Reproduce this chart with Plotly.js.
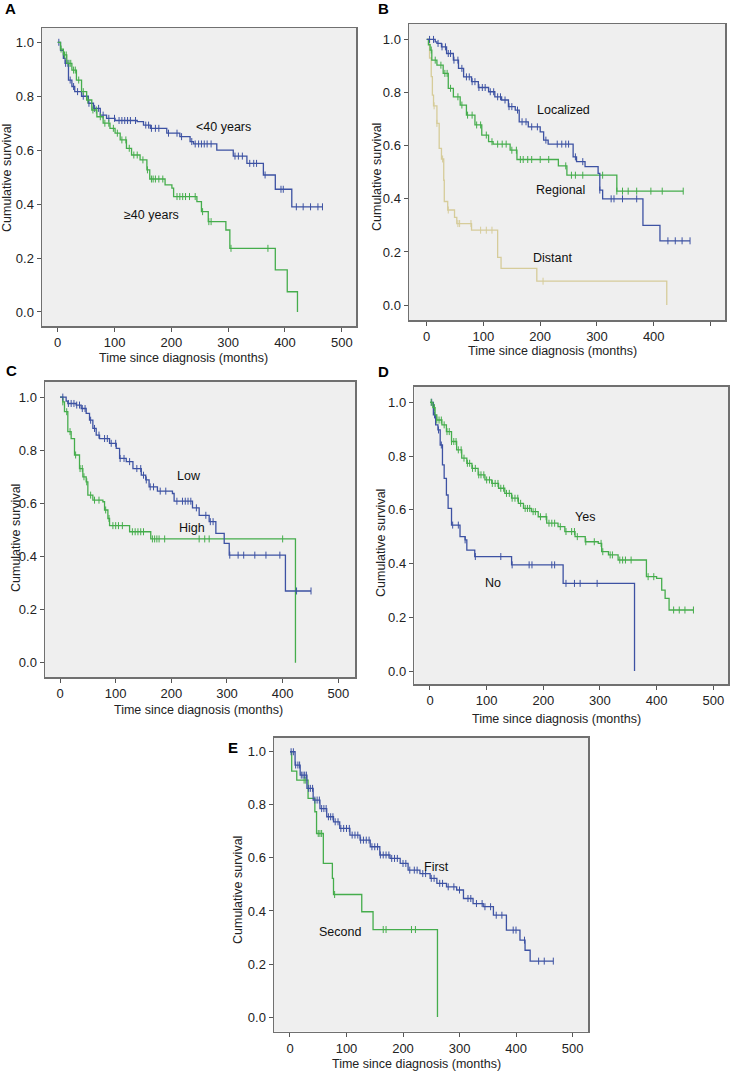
<!DOCTYPE html>
<html>
<head>
<meta charset="utf-8">
<script src="https://cdn.plot.ly/plotly-3.0.1.min.js"></script>
<style>html,body{margin:0;padding:0;background:#fff;}#chart{width:734px;height:1073px;}</style>
</head>
<body>
<div id="chart"></div>
<script>
// ---------- DATA (time in months, cumulative survival) ----------
// Panel A: age
const aYoungT = [0, 5, 10, 13, 19, 25, 30, 42, 54, 63, 75, 86, 101, 140, 151, 163, 192, 215, 233, 239, 280, 309, 333, 362, 383, 412];
const aYoungS = [1.0, 0.97, 0.94, 0.922, 0.86, 0.836, 0.817, 0.80, 0.774, 0.755, 0.73, 0.718, 0.71, 0.706, 0.693, 0.681, 0.663, 0.65, 0.632, 0.623, 0.60, 0.578, 0.551, 0.508, 0.455, 0.39];
const aYoungEnd = 466;
const aYoungCens = [2, 14, 18, 22, 28, 35, 45, 55, 65, 72, 80, 90, 100, 108, 113, 118, 123, 128, 137, 155, 160, 165, 172, 178, 195, 210, 218, 236, 242, 248, 253, 258, 263, 270, 312, 318, 325, 338, 345, 350, 365, 393, 397, 420, 432, 445, 458, 466];
const aOldT = [0, 5, 10, 16, 25, 33, 42, 51, 60, 69, 80, 92, 101, 110, 121, 130, 145, 157, 162, 189, 201, 204, 245, 253, 265, 296, 303, 383, 404, 422];
const aOldS = [1.0, 0.975, 0.953, 0.922, 0.897, 0.86, 0.817, 0.786, 0.749, 0.724, 0.70, 0.681, 0.663, 0.638, 0.607, 0.582, 0.564, 0.527, 0.493, 0.471, 0.459, 0.428, 0.409, 0.372, 0.335, 0.304, 0.236, 0.156, 0.075, 0];
const aOldCens = [6, 12, 15, 20, 23, 28, 31, 37, 45, 53, 62, 68, 75, 83, 90, 98, 105, 113, 120, 126, 134, 140, 150, 158, 165, 168, 172, 178, 185, 210, 215, 220, 225, 232, 242, 255, 266, 270, 305, 370];
const aLabels = ["<40 years", "≥40 years"];

// Panel B: stage
const bLocT = [0, 15, 18, 26, 35, 47, 56, 65, 79, 91, 109, 120, 132, 144, 156, 163, 179, 200, 206, 214, 258, 264, 279, 302, 305, 310, 381, 411];
const bLocS = [1.0, 0.991, 0.985, 0.972, 0.947, 0.922, 0.891, 0.859, 0.841, 0.819, 0.803, 0.784, 0.772, 0.747, 0.734, 0.69, 0.671, 0.652, 0.621, 0.606, 0.558, 0.54, 0.521, 0.496, 0.433, 0.40, 0.30, 0.242];
const bLocEnd = 464;
const bLocCens = [5, 12, 20, 27, 33, 38, 42, 48, 55, 62, 70, 75, 80, 85, 92, 98, 103, 112, 118, 125, 130, 138, 145, 150, 160, 168, 175, 185, 195, 210, 230, 238, 245, 250, 262, 275, 305, 325, 330, 345, 370, 425, 438, 450, 464];
const bRegT = [0, 3, 6, 9, 18, 29, 38, 47, 59, 70, 85, 97, 109, 117, 147, 159, 232, 247, 335];
const bRegS = [1.0, 0.98, 0.96, 0.922, 0.903, 0.872, 0.816, 0.784, 0.753, 0.715, 0.678, 0.64, 0.615, 0.606, 0.583, 0.548, 0.524, 0.489, 0.429];
const bRegEnd = 452;
const bRegCens = [8, 15, 25, 32, 36, 42, 55, 62, 72, 80, 88, 95, 105, 115, 125, 133, 140, 150, 158, 165, 170, 178, 185, 200, 215, 245, 255, 262, 275, 310, 335, 345, 355, 370, 395, 415, 452];
const bDisT = [0, 5, 8, 10, 12, 18, 22, 26, 30, 31, 37, 49, 53, 79, 125, 131, 194, 423];
const bDisS = [1.0, 0.93, 0.86, 0.79, 0.75, 0.684, 0.59, 0.55, 0.47, 0.39, 0.358, 0.33, 0.307, 0.282, 0.18, 0.138, 0.09, 0];
const bDisCens = [13, 18, 28, 38, 55, 58, 78, 95, 105, 115, 205];
const bLabels = ["Localized", "Regional", "Distant"];

// Panel C: grade
const cLowT = [0, 11, 14, 29, 38, 47, 53, 59, 65, 71, 89, 101, 107, 119, 131, 146, 154, 160, 175, 202, 205, 238, 250, 268, 280, 295, 304, 405];
const cLowS = [1.0, 0.985, 0.976, 0.97, 0.957, 0.939, 0.913, 0.882, 0.857, 0.844, 0.826, 0.807, 0.769, 0.757, 0.731, 0.706, 0.688, 0.662, 0.646, 0.637, 0.608, 0.583, 0.555, 0.531, 0.487, 0.449, 0.405, 0.27];
const cLowEnd = 451;
const cLowCens = [5, 15, 20, 25, 30, 35, 40, 45, 55, 62, 70, 80, 85, 92, 100, 108, 115, 125, 138, 145, 150, 155, 162, 168, 180, 190, 210, 220, 225, 230, 235, 245, 262, 270, 275, 305, 320, 330, 350, 370, 395, 425, 451];
const cHighT = [0, 5, 8, 14, 20, 26, 35, 41, 47, 50, 59, 77, 80, 86, 89, 125, 163, 423];
const cHighS = [1.0, 0.982, 0.945, 0.87, 0.844, 0.782, 0.731, 0.70, 0.681, 0.631, 0.612, 0.606, 0.575, 0.543, 0.516, 0.493, 0.466, 0];
const cHighCens = [5, 12, 18, 28, 36, 40, 43, 48, 55, 62, 70, 82, 88, 95, 100, 105, 112, 130, 135, 140, 145, 150, 166, 170, 174, 178, 188, 250, 260, 268, 400];
const cLabels = ["Low", "High"];

// Panel D: surgery
const dYesT = [0, 5, 9, 12, 21, 29, 38, 47, 56, 65, 74, 85, 97, 109, 121, 132, 144, 156, 165, 179, 191, 206, 226, 238, 256, 274, 297, 303, 315, 332, 382, 400, 409, 415, 422];
const dYesS = [1.0, 0.98, 0.953, 0.934, 0.916, 0.891, 0.854, 0.823, 0.792, 0.773, 0.754, 0.73, 0.711, 0.698, 0.68, 0.661, 0.643, 0.624, 0.605, 0.593, 0.574, 0.55, 0.537, 0.519, 0.50, 0.481, 0.475, 0.444, 0.432, 0.413, 0.351, 0.345, 0.301, 0.27, 0.227];
const dYesEnd = 465;
const dYesCens = [2, 8, 12, 16, 20, 25, 30, 34, 38, 42, 46, 50, 55, 60, 66, 70, 75, 80, 86, 90, 95, 100, 105, 110, 115, 120, 125, 130, 135, 140, 145, 150, 155, 160, 168, 172, 176, 182, 186, 195, 205, 210, 215, 220, 230, 240, 250, 255, 260, 275, 290, 302, 305, 318, 322, 335, 340, 345, 355, 385, 395, 430, 440, 450, 465];
const dNoT = [0, 6, 10, 14, 18, 22, 25, 29, 32, 38, 53, 62, 65, 79, 144, 235, 361];
const dNoS = [1.0, 0.953, 0.916, 0.897, 0.841, 0.767, 0.717, 0.655, 0.605, 0.543, 0.50, 0.488, 0.45, 0.426, 0.395, 0.326, 0];
const dNoCens = [3, 8, 15, 20, 40, 50, 62, 80, 125, 145, 175, 180, 215, 220, 240, 255, 265, 295];
const dLabels = ["Yes", "No"];

// Panel E: primary tumour order
const eFirstT = [0, 9, 18, 30, 41, 53, 65, 77, 88, 106, 124, 142, 159, 177, 195, 209, 230, 248, 260, 277, 295, 307, 324, 342, 360, 383, 407, 416, 425];
const eFirstS = [1.0, 0.95, 0.912, 0.862, 0.818, 0.786, 0.755, 0.736, 0.711, 0.686, 0.667, 0.642, 0.611, 0.598, 0.579, 0.554, 0.541, 0.523, 0.504, 0.491, 0.479, 0.447, 0.428, 0.416, 0.384, 0.328, 0.29, 0.252, 0.211];
const eFirstEnd = 466;
const eFirstCens = [2, 6, 10, 14, 17, 20, 23, 26, 29, 33, 36, 40, 44, 48, 52, 56, 60, 64, 68, 72, 76, 80, 85, 90, 95, 100, 105, 110, 115, 120, 125, 130, 135, 140, 145, 150, 155, 160, 165, 170, 175, 180, 185, 190, 200, 205, 212, 220, 225, 235, 240, 250, 255, 265, 270, 280, 290, 300, 315, 320, 330, 340, 345, 355, 365, 375, 395, 400, 415, 440, 450, 466];
const eSecondT = [0, 3, 12, 32, 44, 47, 59, 75, 77, 127, 147, 261];
const eSecondS = [1.0, 0.927, 0.893, 0.824, 0.774, 0.692, 0.579, 0.523, 0.462, 0.397, 0.33, 0];
const eSecondCens = [25, 28, 50, 53, 56, 79, 165, 170, 215, 222];
const eLabels = ["First", "Second"];

const xTickVals = [0, 100, 200, 300, 400, 500];
const yTickVals = [0, 0.2, 0.4, 0.6, 0.8, 1.0];
const yTickText = ["0.0", "0.2", "0.4", "0.6", "0.8", "1.0"];
const xTitle = "Time since diagnosis (months)";
const yTitle = "Cumulative survival";

// ---------- STYLE ----------
const W = 734, H = 1073;
const BLUE = "#3d52a3", GREEN = "#45ad4c", TAN = "#d6cc9a";
const FONT = "Liberation Sans, Arial, sans-serif";

function survAt(T, S, t) {
  let v = S[0];
  for (let i = 0; i < T.length; i++) { if (T[i] <= t) v = S[i]; }
  return v;
}
function curve(T, S, end, cens, color, ax) {
  const x = T.slice(), y = S.slice();
  if (end !== undefined && end > T[T.length - 1]) { x.push(end); y.push(S[S.length - 1]); }
  const line = {x: x, y: y, mode: "lines", line: {shape: "hv", color: color, width: 1.3},
    xaxis: "x" + ax, yaxis: "y" + ax, hoverinfo: "skip", showlegend: false};
  const marks = {x: cens, y: cens.map(t => survAt(T, S, t)), mode: "markers",
    marker: {symbol: "line-ns-open", size: 5, color: color, line: {color: color, width: 1}},
    xaxis: "x" + ax, yaxis: "y" + ax, hoverinfo: "skip", showlegend: false};
  return [line, marks];
}

const traces = [].concat(
  curve(aYoungT, aYoungS, aYoungEnd, aYoungCens, BLUE, ""),
  curve(aOldT, aOldS, undefined, aOldCens, GREEN, ""),
  curve(bDisT, bDisS, undefined, bDisCens, TAN, "2"),
  curve(bRegT, bRegS, bRegEnd, bRegCens, GREEN, "2"),
  curve(bLocT, bLocS, bLocEnd, bLocCens, BLUE, "2"),
  curve(cHighT, cHighS, undefined, cHighCens, GREEN, "3"),
  curve(cLowT, cLowS, cLowEnd, cLowCens, BLUE, "3"),
  curve(dNoT, dNoS, undefined, dNoCens, BLUE, "4"),
  curve(dYesT, dYesS, dYesEnd, dYesCens, GREEN, "4"),
  curve(eSecondT, eSecondS, undefined, eSecondCens, GREEN, "5"),
  curve(eFirstT, eFirstS, eFirstEnd, eFirstCens, BLUE, "5")
);

// panel frames in pixels: [left, right, top, bottom], axis ranges
const panels = [
  {px: [42, 356, 28, 326], xr: [-27.6, 525], yr: [-0.052, 1.053], xlab: ["0","100","200","300","400","500"]},
  {px: [409, 725, 24, 320], xr: [-31.2, 525.6], yr: [-0.056, 1.058], xlab: ["0","100","200","300","400",""]},
  {px: [45, 355, 381.7, 677.3], xr: [-27, 530], yr: [-0.055, 1.058], xlab: ["0","100","200","300","400","500"]},
  {px: [414.3, 728, 386.7, 684.3], xr: [-27.7, 526], yr: [-0.0495, 1.058], xlab: ["0","100","200","300","400","500"]},
  {px: [274, 588, 737.7, 1031.7], xr: [-28.3, 527.4], yr: [-0.055, 1.053], xlab: ["0","100","200","300","400","500"]}
];

const layout = {
  width: W, height: H, margin: {l: 0, r: 0, t: 0, b: 0},
  paper_bgcolor: "#ffffff", plot_bgcolor: "#efefef", showlegend: false,
  font: {family: FONT, size: 13, color: "#222"}, annotations: []
};
panels.forEach((p, i) => {
  const s = i === 0 ? "" : String(i + 1);
  const common = {showline: true, mirror: true, linecolor: "#707070", linewidth: 1.5,
    ticks: "outside", ticklen: 4, tickcolor: "#555", tickwidth: 1, showgrid: false, zeroline: false,
    tickfont: {family: FONT, size: 13, color: "#222"}, fixedrange: true};
  layout["xaxis" + s] = Object.assign({}, common, {
    domain: [p.px[0] / W, p.px[1] / W], range: p.xr, anchor: "y" + s,
    tickmode: "array", tickvals: xTickVals, ticktext: p.xlab});
  layout["yaxis" + s] = Object.assign({}, common, {
    domain: [1 - p.px[3] / H, 1 - p.px[2] / H], range: p.yr, anchor: "x" + s,
    tickmode: "array", tickvals: yTickVals, ticktext: yTickText});
});

function paperText(text, px, py, opts) {
  return Object.assign({text: text, xref: "paper", yref: "paper", x: px / W, y: 1 - py / H,
    showarrow: false, xanchor: "center", yanchor: "middle",
    font: {family: FONT, size: 12.5, color: "#222"}}, opts || {});
}
function dataText(text, ax, x, y) {
  return {text: text, xref: "x" + ax, yref: "y" + ax, x: x, y: y, showarrow: false,
    xanchor: "center", yanchor: "middle", font: {family: FONT, size: 12.5, color: "#111"}};
}
// axis titles
[[183, 358], [552, 351], [198, 710], [556, 719], [416, 1064]].forEach(p =>
  layout.annotations.push(paperText(xTitle, p[0], p[1])));
[[7, 178], [377, 177], [16, 538], [381, 543], [238, 890]].forEach(p =>
  layout.annotations.push(paperText(yTitle, p[0], p[1], {textangle: -90})));
// panel letters
[["A", 10, 8], ["B", 383, 8], ["C", 12, 370], ["D", 383, 372], ["E", 233, 747]].forEach(p =>
  layout.annotations.push(paperText("<b>" + p[0] + "</b>", p[1], p[2], {font: {family: FONT, size: 15, color: "#000"}})));
// curve labels
layout.annotations.push(
  dataText(aLabels[0], "", 292, 0.687), dataText(aLabels[1], "", 165, 0.36),
  dataText(bLabels[0], "2", 241, 0.734), dataText(bLabels[1], "2", 235, 0.433), dataText(bLabels[2], "2", 222, 0.176),
  dataText(cLabels[0], "3", 232, 0.704), dataText(cLabels[1], "3", 237, 0.506),
  dataText(dLabels[0], "4", 274, 0.574), dataText(dLabels[1], "4", 112, 0.326),
  dataText(eLabels[0], "5", 260, 0.567), dataText(eLabels[1], "5", 88, 0.322)
);

Plotly.newPlot("chart", traces, layout, {staticPlot: true, displayModeBar: false});
</script>
</body>
</html>
